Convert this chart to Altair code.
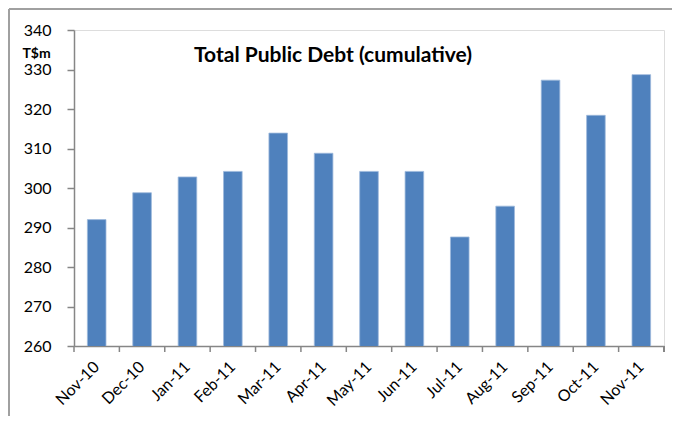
import altair as alt
import pandas as pd

months = ["Nov-10", "Dec-10", "Jan-11", "Feb-11", "Mar-11", "Apr-11", "May-11",
          "Jun-11", "Jul-11", "Aug-11", "Sep-11", "Oct-11", "Nov-11"]
debt = [292.0, 298.8, 302.8, 304.2, 313.9, 308.8, 304.2,
        304.2, 287.6, 295.4, 327.3, 318.4, 328.7]

df = pd.DataFrame({"month": months, "debt": debt})

W, H = 590, 316
FONT = "Lato"
GRAY = "#868686"

xscale = alt.Scale(domain=months, paddingInner=0, paddingOuter=0)

bars = alt.Chart(df).mark_bar(
    width=alt.RelativeBandSize(0.41), color="#4F81BD", stroke="#9DB9DC", strokeWidth=0.8, clip=True
).encode(
    x=alt.X("month:N", sort=months, scale=xscale,
            axis=alt.Axis(title=None, labelAngle=-45, labelAlign="right", labelBaseline="middle",
                          labelFontSize=16, labelFont=FONT, labelColor="#000000",
                          labelPadding=18, ticks=False, domainColor=GRAY, domainWidth=1.5)),
    y=alt.Y("debt:Q", scale=alt.Scale(domain=[260, 340], nice=False, zero=False),
            axis=alt.Axis(values=list(range(260, 341, 10)), title="T$m", titleAngle=0,
                          titleX=-38, titleY=27, titleAlign="center", titleBaseline="alphabetic",
                          titleFont=FONT, titleFontSize=14, titleFontWeight="bold", titleColor="#000000",
                          labelFontSize=16, labelFont=FONT, labelColor="#000000", labelPadding=16,
                          tickSize=7, tickColor=GRAY, tickWidth=1.5, domainColor=GRAY, domainWidth=1.5,
                          grid=False)),
)

ticks = alt.Chart(df).mark_rule(color=GRAY, strokeWidth=1.5).encode(
    x=alt.X("month:N", sort=months, scale=xscale, bandPosition=0),
    y=alt.value(H), y2=alt.value(H + 6),
)
end_tick = alt.Chart(df).mark_rule(color=GRAY, strokeWidth=1.5).encode(
    x=alt.value(W), y=alt.value(H), y2=alt.value(H + 6),
)
border_top = alt.Chart(df).mark_rule(color="#A0A0A0", strokeWidth=1.5).encode(
    x=alt.value(-65), x2=alt.value(620), y=alt.value(-21),
)
border_left = alt.Chart(df).mark_rule(color="#A0A0A0", strokeWidth=1.5).encode(
    x=alt.value(-65), y=alt.value(-21), y2=alt.value(400),
)

chart = alt.layer(bars, ticks, end_tick, border_top, border_left).properties(
    width=W, height=H,
    autosize=alt.AutoSizeParams(type="none"),
    padding={"left": 66, "top": 22, "right": 8, "bottom": 70},
    title=alt.TitleParams("Total Public Debt (cumulative)", font=FONT, fontSize=21,
                          fontWeight="bold", color="#000000", anchor="middle",
                          baseline="alphabetic", offset=0, dx=-36, dy=75),
).configure_view(strokeWidth=0).configure(background="white")

chart.save("out.html", embed_options={"renderer": "svg", "actions": False})
